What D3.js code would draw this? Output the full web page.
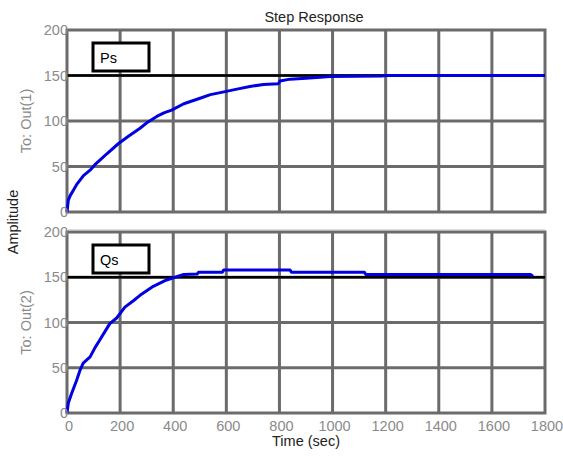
<!DOCTYPE html>
<html><head><meta charset="utf-8">
<script src="https://cdn.jsdelivr.net/npm/d3@7"></script>
<style>body{margin:0;background:#fff}svg{display:block}text{font-family:"Liberation Sans",Arial,sans-serif}</style>
</head><body><div id="c"></div>
<script>
const title = "Step Response";
const xTicks = [0,200,400,600,800,1000,1200,1400,1600,1800];
const yTicks = [0,50,100,150,200];
const refValue = 150;
// Ps (Out 1)
const psTime = [0,5,12,24,36,49,62,87,105,124,150,193,230,275,305,338,365,394,440,501,540,591,640,689,740,796,802,840,900,953,990,1185,1200,1800];
const psVal  = [0,13,18,24,30,35,40,46,52,57,64,75,83,92,99,105,109,112,119,125,129,132,135,138,140,141,144,146,147,148,149,149.5,150,150];
// Qs (Out 2)
const qsTime = [0,5,18,36,50,61,87,105,124,145,162,187,218,250,275,325,375,413,440,490,495,585,590,840,845,1120,1125,1745,1755];
const qsVal  = [0,11,22,36,48,55,62,72,81,91,99,105,117,124,130,140,147,150.5,153,153.5,155.5,155.5,158,158,155.5,155.5,153,153,151];
const panels = [
  {name:"Ps", ylab:"To: Out(1)", t:psTime, v:psVal, top:30, bottom:212},
  {name:"Qs", ylab:"To: Out(2)", t:qsTime, v:qsVal, top:232, bottom:413}
];

const W=563,H=457, L=67, R=545;
const svg = d3.select("#c").append("svg").attr("width",W).attr("height",H);
const x = d3.scaleLinear().domain([0,1800]).range([L,R]);
const grid = "#6b6b6b", tickCol="#8a8a8a", fs=14.5;

panels.forEach((p,i)=>{
  const y = d3.scaleLinear().domain([0,200]).range([p.bottom,p.top]);
  const g = svg.append("g");
  g.selectAll(".vg").data(xTicks.slice(1,-1)).enter().append("line")
    .attr("x1",d=>x(d)).attr("x2",d=>x(d)).attr("y1",p.top).attr("y2",p.bottom)
    .attr("stroke",grid).attr("stroke-width",3);
  g.selectAll(".hg").data(yTicks.slice(1,-1)).enter().append("line")
    .attr("x1",L).attr("x2",R).attr("y1",d=>y(d)).attr("y2",d=>y(d))
    .attr("stroke",grid).attr("stroke-width",3);
  g.append("rect").attr("x",L).attr("y",p.top).attr("width",R-L).attr("height",p.bottom-p.top)
    .attr("fill","none").attr("stroke",grid).attr("stroke-width",3);
  g.append("line").attr("x1",x(0)).attr("x2",x(1800)).attr("y1",y(refValue)).attr("y2",y(refValue))
    .attr("stroke","#000").attr("stroke-width",2.5);
  const data = p.t.map((t,k)=>[t,p.v[k]]);
  g.append("path").datum(data).attr("fill","none").attr("stroke","#0000e0").attr("stroke-width",3)
    .attr("stroke-linejoin","round")
    .attr("d", d3.line().x(d=>x(d[0])).y(d=>y(d[1])));
  g.selectAll(".yt").data(yTicks).enter().append("text")
    .attr("x",L+1).attr("y",d=>y(d)+5).attr("text-anchor","end")
    .attr("font-size",fs).attr("fill",tickCol).text(d=>d);
  g.append("text").attr("transform",`translate(31,${(p.top+p.bottom)/2}) rotate(-90)`)
    .attr("text-anchor","middle").attr("font-size",fs).attr("fill",tickCol).text(p.ylab);
  g.append("rect").attr("x",93).attr("y",p.top+13).attr("width",56).attr("height",28)
    .attr("fill","#fff").attr("stroke","#000").attr("stroke-width",3);
  g.append("text").attr("x",100).attr("y",p.top+33).attr("font-size",fs).attr("fill","#000").text(p.name);
  if(i===1){
    g.selectAll(".xt").data(xTicks).enter().append("text")
      .attr("x",d=>x(d)+2).attr("y",431).attr("text-anchor","middle")
      .attr("font-size",fs).attr("fill",tickCol).text(d=>d);
  }
});
svg.append("line").attr("x1",L).attr("x2",R).attr("y1",229.5).attr("y2",229.5).attr("stroke","#ddd").attr("stroke-width",1);
svg.append("text").attr("x",314).attr("y",22).attr("text-anchor","middle").attr("font-size",fs).attr("fill","#222").text(title);
svg.append("text").attr("transform","translate(18,222) rotate(-90)").attr("text-anchor","middle").attr("font-size",fs).attr("fill","#222").text("Amplitude");
svg.append("text").attr("x",306).attr("y",446).attr("text-anchor","middle").attr("font-size",fs).attr("fill","#222").text("Time (sec)");
</script></body></html>
